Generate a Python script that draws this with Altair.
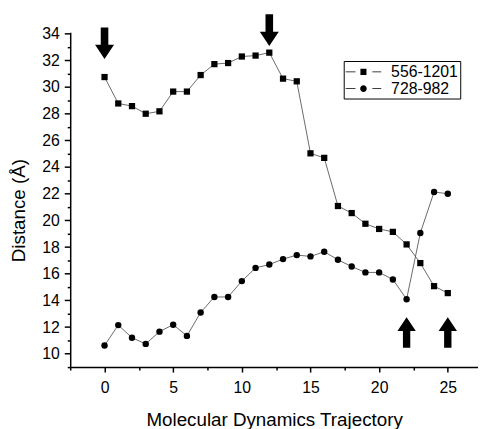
import altair as alt
import pandas as pd

# ---- data ----
traj = list(range(26))
d556 = [30.75, 28.77, 28.57, 28.0, 28.18, 29.66, 29.66, 30.9, 31.72, 31.8,
        32.29, 32.36, 32.58, 30.63, 30.43, 25.03, 24.69, 21.08, 20.55, 19.75,
        19.36, 19.14, 18.2, 16.8, 15.07, 14.55]
d728 = [10.62, 12.15, 11.2, 10.74, 11.66, 12.18, 11.34, 13.1, 14.26, 14.26,
        15.45, 16.44, 16.69, 17.1, 17.4, 17.3, 17.65, 17.05, 16.54, 16.1,
        16.1, 15.57, 14.09, 19.06, 22.13, 22.0]
series_names = ["556-1201", "728-982"]

arrow_x = [0, 12, 22, 25]
arrow_y = [33.29, 34.27, 11.6, 11.6]
arrow_dir = ["down", "down", "up", "up"]

x_major = [0, 5, 10, 15, 20, 25]
x_minor = [-2.5, 2.5, 7.5, 12.5, 17.5, 22.5]
y_major = list(range(10, 35, 2))
y_minor = list(range(9, 34, 2))

df = pd.DataFrame({"x": traj * 2,
                   "y": d556 + d728,
                   "series": [series_names[0]] * 26 + [series_names[1]] * 26})
arrows = pd.DataFrame({"x": arrow_x, "y": arrow_y, "dir": arrow_dir})

FONT = "Liberation Sans"
xs = alt.Scale(domain=[-2.5, 27.2], nice=False, zero=False)
ys = alt.Scale(domain=[9, 34.1], nice=False, zero=False)

base = alt.Chart(df)

major = base.mark_line(color="#444444", strokeWidth=0.8).encode(
    x=alt.X("x:Q", scale=xs, axis=alt.Axis(values=x_major, title="Molecular Dynamics Trajectory",
                                          tickSize=5, labelPadding=8, titlePadding=15, orient="bottom")),
    y=alt.Y("y:Q", scale=ys, axis=alt.Axis(values=y_major, title="Distance (Å)",
                                          tickSize=6, labelPadding=5, titlePadding=13, titleY=180,
                                          orient="left")),
    detail="series:N",
)

minor = base.mark_point(opacity=0).encode(
    x=alt.X("x:Q", scale=xs, axis=alt.Axis(values=x_minor, labels=False, domain=False, title=None,
                                          tickSize=3, orient="bottom")),
    y=alt.Y("y:Q", scale=ys, axis=alt.Axis(values=y_minor, labels=False, domain=False, title=None,
                                          tickSize=3, orient="left")),
)

sq = base.transform_filter(alt.datum.series == series_names[0]).mark_point(
    shape="square", filled=True, size=40, color="black", opacity=1).encode(
    x=alt.X("x:Q", scale=xs, axis=None), y=alt.Y("y:Q", scale=ys, axis=None))
ci = base.transform_filter(alt.datum.series == series_names[1]).mark_point(
    shape="circle", filled=True, size=42, color="black", opacity=1).encode(
    x=alt.X("x:Q", scale=xs, axis=None), y=alt.Y("y:Q", scale=ys, axis=None))

DOWN = "M-0.24,-1L0.24,-1L0.24,0.1L0.6,0.1L0,1L-0.6,0.1L-0.24,0.1Z"
UP = "M-0.24,1L0.24,1L0.24,-0.1L0.6,-0.1L0,-1L-0.6,-0.1L-0.24,-0.1Z"
abase = alt.Chart(arrows)
down = abase.transform_filter(alt.datum.dir == "down").mark_point(
    shape=DOWN, filled=True, size=1024, color="black", opacity=1).encode(
    x=alt.X("x:Q", scale=xs, axis=None), y=alt.Y("y:Q", scale=ys, axis=None))
up = abase.transform_filter(alt.datum.dir == "up").mark_point(
    shape=UP, filled=True, size=961, color="black", opacity=1).encode(
    x=alt.X("x:Q", scale=xs, axis=None), y=alt.Y("y:Q", scale=ys, axis=None))

# legend symbols: thin line pieces with the marker in the middle (path wider than the unit box)
SEG = "M-2,-0.05L-0.9,-0.05L-0.9,0.05L-2,0.05ZM1,-0.05L2,-0.05L2,0.05L1,0.05Z"
LEG_SQ = SEG + "M-0.34,-0.34L0.34,-0.34L0.34,0.34L-0.34,0.34Z"
LEG_CI = SEG + "M0.37,0A0.37,0.37,0,1,1,-0.37,0A0.37,0.37,0,1,1,0.37,0Z"
leg = base.transform_filter(alt.datum.x < -100).mark_point(
    filled=True, color="black", opacity=1).encode(
    x=alt.X("x:Q", scale=xs, axis=None), y=alt.Y("y:Q", scale=ys, axis=None),
    shape=alt.Shape("series:N", scale=alt.Scale(domain=series_names, range=[LEG_SQ, LEG_CI]),
                    legend=alt.Legend(title=None, orient="none", legendX=277, legendY=29,
                                      strokeColor="black", fillColor="white", padding=2,
                                      labelFont=FONT, labelFontSize=16, labelColor="black",
                                      symbolSize=324, symbolOffset=9, labelOffset=19, rowPadding=0,
                                      symbolFillColor="black", symbolStrokeWidth=0)),
)

chart = alt.layer(major, minor, sq, ci, down, up, leg).resolve_axis(
    x="independent", y="independent"
).properties(
    width=413, height=339,
    autosize=alt.AutoSizeParams(type="none"),
    padding={"left": 63, "top": 22, "right": 0, "bottom": 60},
).configure_view(stroke=None).configure_axis(
    domainColor="black", domainWidth=1.5, tickColor="black", tickWidth=1.5,
    labelFont=FONT, labelFontSize=16, labelColor="black",
    titleFont=FONT, titleFontSize=19, titleFontWeight="normal", titleColor="black",
    grid=False,
)

chart.save("out.html", embed_options={"renderer": "svg", "actions": False})
